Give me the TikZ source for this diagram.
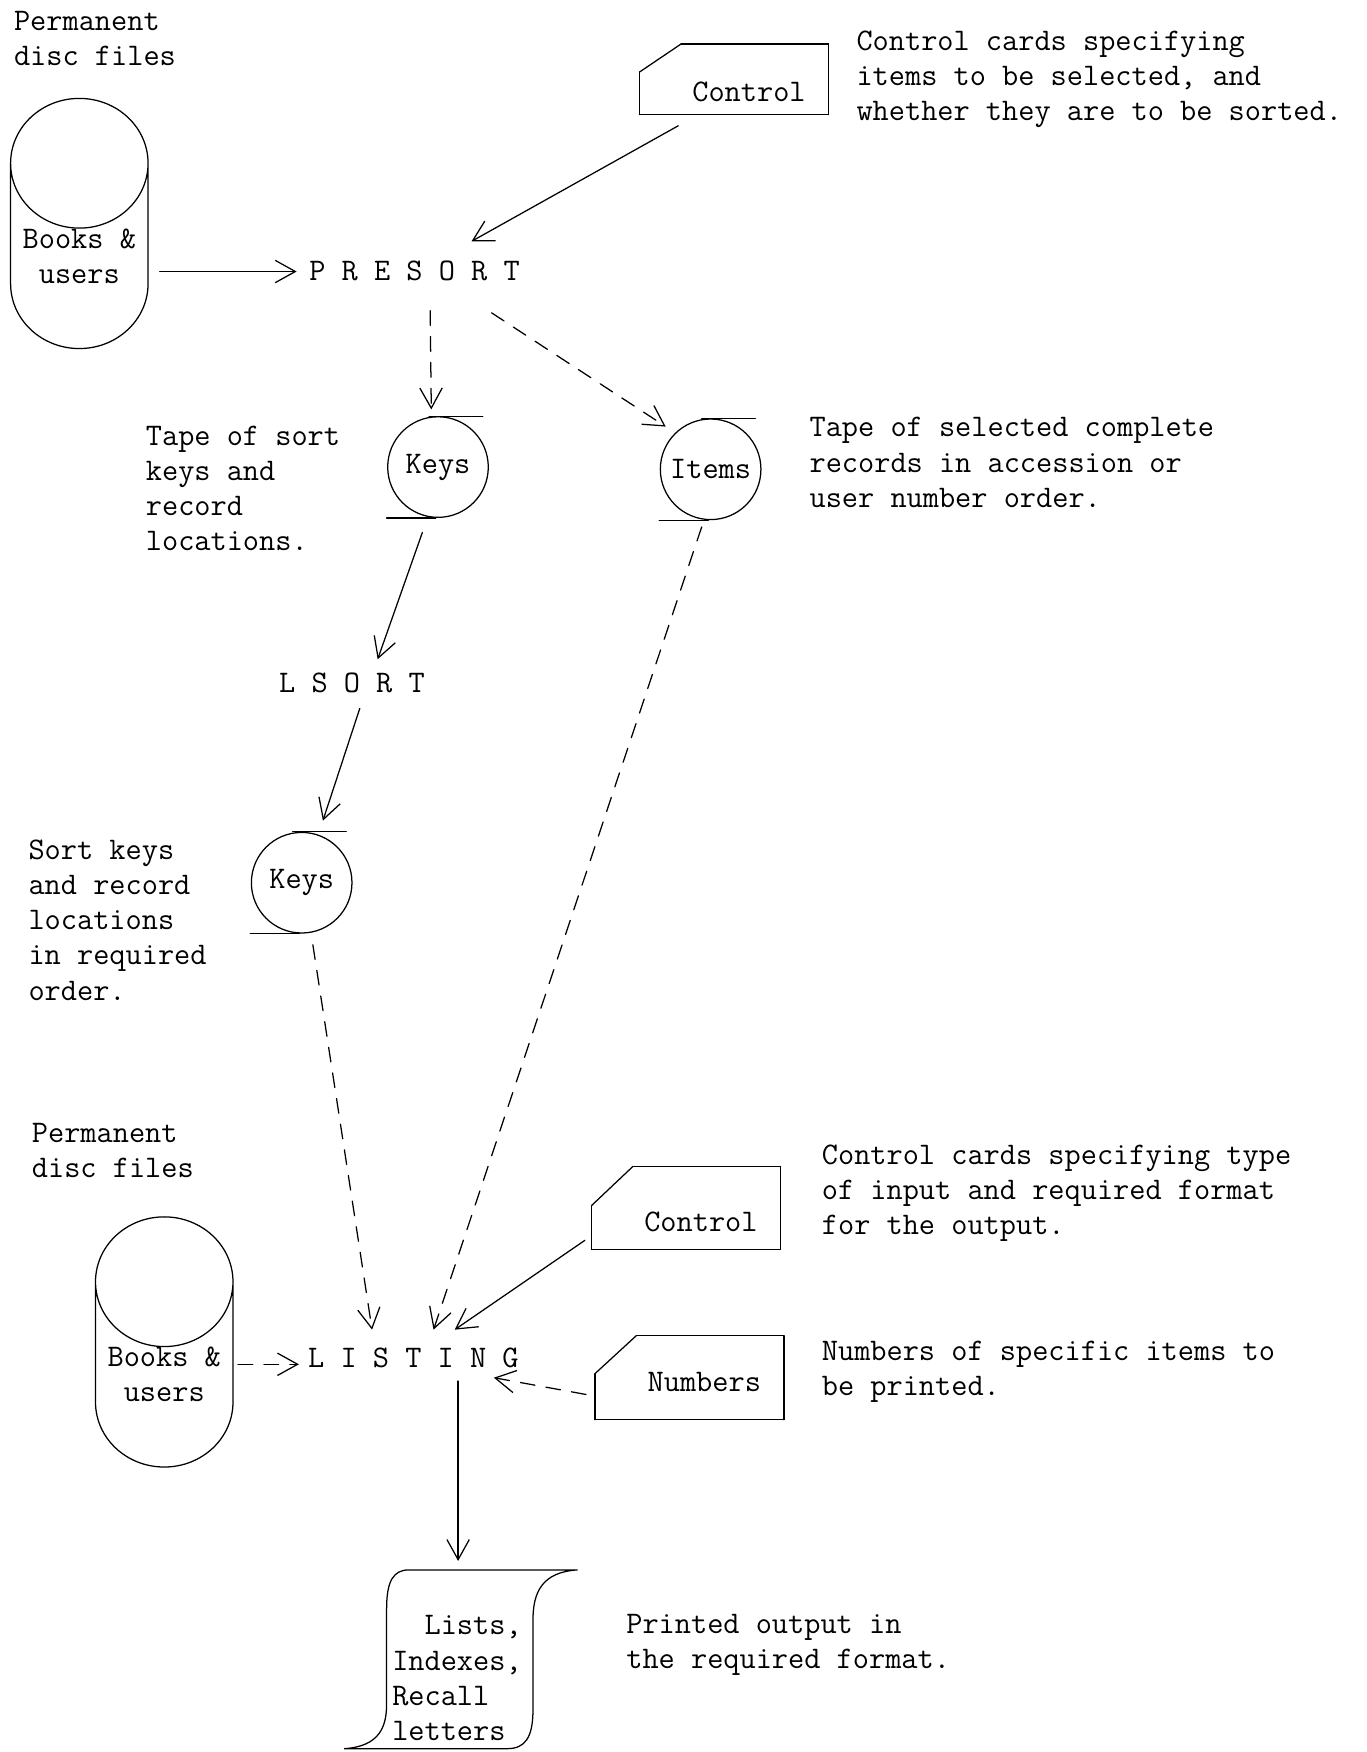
\documentclass[tikz,border=0pt]{standalone}
\usepackage{fontspec}
\usepackage{tikz}
\usetikzlibrary{arrows.meta, calc, positioning, shapes.geometric}
\tikzset{
Disc/.style={
	cylinder, draw,
	shape border rotate=90,
	aspect=1.145,
	minimum width=3.075cm,
	minimum height=3.8cm,
	inner sep=0pt,
	align=center
},
Card/.style={
	inner sep=0pt,
	minimum width=4.2cm,
	text width=3.2cm, align=right,
	text height=1.3cm, text depth=0.35cm,
	append after command={
		([yshift=-#1]\tikzlastnode.north west) edge ([xshift=0.925cm]\tikzlastnode.north west)
		([xshift=0.925cm]\tikzlastnode.north west) edge (\tikzlastnode.north east)
		(\tikzlastnode.north east) edge (\tikzlastnode.south east)
		(\tikzlastnode.south east) edge (\tikzlastnode.south west)
		(\tikzlastnode.south west) edge ([yshift=-#1]\tikzlastnode.north west)
	}
},
Card/.default=0.65cm,
Tape/.style={
	circle, draw, inner sep=0pt,
	minimum size=2.25cm,
	append after command={
		([xshift=-0.2cm]\tikzlastnode.north) edge ([xshift=1cm]\tikzlastnode.north)
		([xshift=-1.15cm]\tikzlastnode.south) edge ([xshift=-0.05cm]\tikzlastnode.south)
	}
},
Process/.style={inner sep=2pt},
Note/.style={align=left, inner sep=0pt, anchor=base west},
Flow/.style={draw, -{Straight Barb[length=0.45cm, width=0.5cm]}},
DashedFlow/.style={Flow, dash pattern=on 0.33cm off 0.25cm}
}

\begin{document}
\begin{tikzpicture}[x=0.025cm, y=-0.025cm, line width=0.8pt, line cap=round,
	font=\ttfamily\fontsize{20}{22.4}\selectfont]
	\useasboundingbox (0,0) rectangle (1223,1568);

	% presort run
	\node[Note] (perm1) at (12,59) {Permanent\\disc files};
	\node[Disc, anchor=shape center] (disc1) at (71,200) {Books \&\\users};
	\node[Card=0.625cm, text height=1.275cm, text depth=0.275cm] (ctl1) at (657,71) {Control};
	\node[Note] (ctl1note) at (766,108) {Control cards specifying\\items to be selected, and\\whether they are to be sorted.};
	\node[Process] (presort) at (371,242) {P R E S O R T};
	\node[Tape] (keys1) at (392,418) {Keys};
	\node[Note] (keys1note) at (130,493) {Tape of sort\\keys and\\record\\locations.};
	\node[Tape] (items) at (636,420) {Items};
	\node[Note] (itemsnote) at (724,454) {Tape of selected complete\\records in accession or\\user number order.};
	\node[Process] (lsort) at (315,611) {L S O R T};
	\node[Tape] (keys2) at (270,790) {Keys};
	\node[Note] (keys2note) at (25,895) {Sort keys\\and record\\locations\\in required\\order.};

	% listing run
	\node[Note] (perm2) at (28,1054) {Permanent\\disc files};
	\node[Disc, anchor=shape center] (disc2) at (147,1201) {Books \&\\users};
	\node[Process] (listing) at (370,1215) {L I S T I N G};
	\node[Card=0.875cm, text height=1.45cm, text depth=0.375cm] (ctl2) at (614,1081) {Control};
	\node[Note] (ctl2note) at (735,1105) {Control cards specifying type\\of input and required format\\for the output.};
	\node[Card=0.85cm, text height=1.225cm, text depth=0.625cm] (nums) at (617,1233) {Numbers};
	\node[Note] (numsnote) at (735,1249) {Numbers of specific items to\\be printed.};
	\node[align=left, inner sep=0pt] (lists) at (409,1502) {\hphantom{xx}Lists,\\Indexes,\\Recall\\letters};
	\node[Note] (listsnote) at (560,1493) {Printed output in\\the required format.};
	\draw[shift={(lists.center)}] (-43,-97) -- (108,-97)
		.. controls (76,-95) and (68,-77) .. (68,-52) -- (68,28)
		.. controls (68,53) and (61,63) .. (45,63) -- (-101,63)
		.. controls (-69,61) and (-63,43) .. (-63,23) -- (-63,-62)
		.. controls (-63,-87) and (-57,-97) .. (-43,-97) -- cycle;

	\draw[Flow] ($(disc1.shape center)+(72,43)$) -- ($(presort.west)+(-8,1)$);
	\draw[Flow] ($(ctl1.south)+(-50,10)$) -- ($(presort.center)+(51,-26)$);
	\draw[DashedFlow] ($(presort.center)+(14,36)$) -- ($(keys1.north)+(-6,-6)$);
	\draw[DashedFlow] ($(presort.center)+(69,38)$) -- ($(items.135)+(-8,-6)$);
	\draw[Flow] ($(keys1.south)+(-14,13)$) -- ($(lsort.center)+(23,-21)$);
	\draw[Flow] ($(lsort.center)+(7,23)$) -- ($(keys2.north)+(19,-10)$);
	\draw[DashedFlow] ($(keys2.south)+(10,10)$) -- ($(listing.center)+(-37,-25)$);
	\draw[DashedFlow] ($(items.south)+(-8,6)$) -- ($(listing.center)+(18,-25)$);
	\draw[Flow] ($(ctl2.south west)+(-6,-8)$) -- ($(listing.center)+(37,-25)$);
	\draw[DashedFlow] ($(disc2.shape center)+(66,20)$) -- ($(listing.west)+(-5,6)$);
	\draw[DashedFlow] ($(nums.west)+(-8,15)$) -- ($(listing.center)+(72,18)$);
	\draw[Flow] ($(listing.center)+(40,21)$) -- ($(lists.center)+(1,-105)$);
\end{tikzpicture}
\end{document}
